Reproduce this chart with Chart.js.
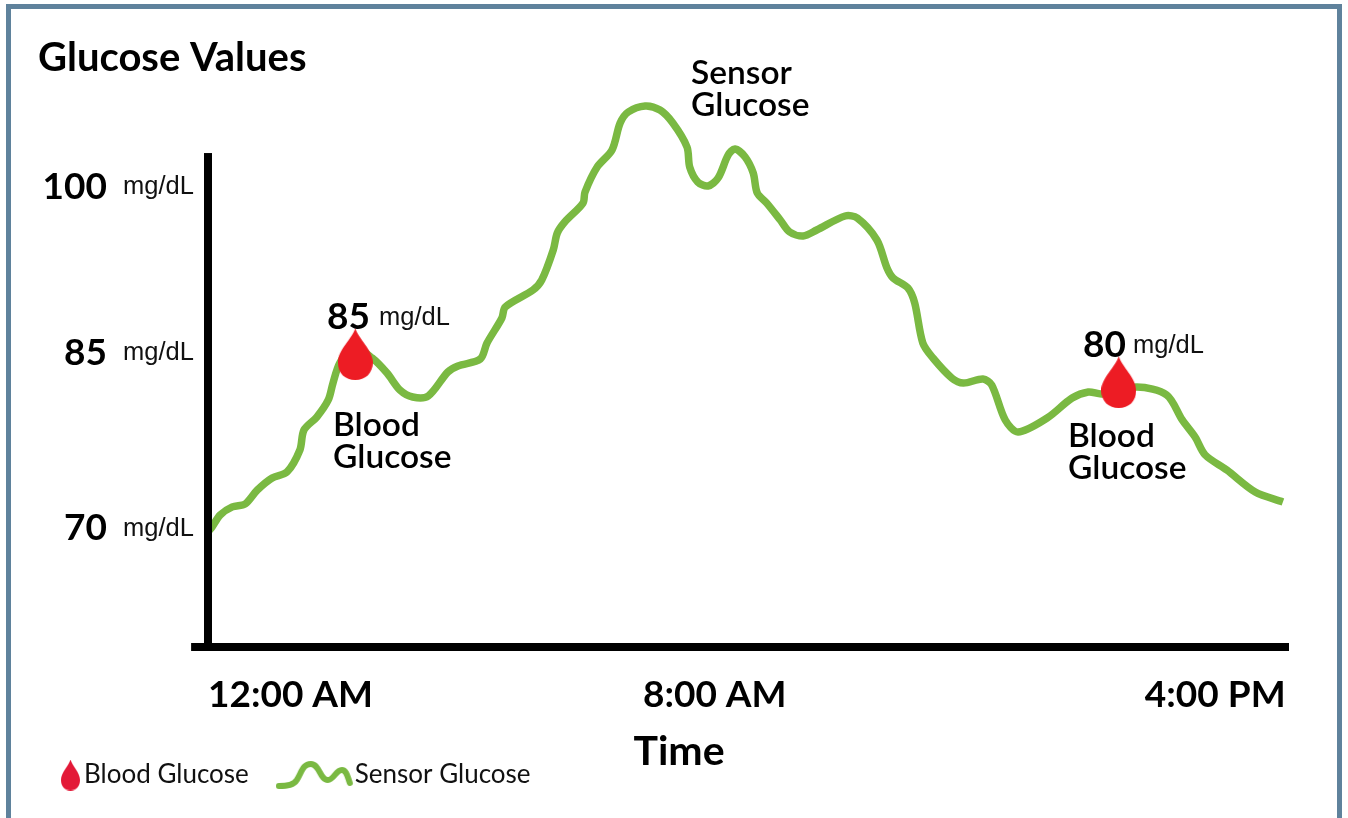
<!DOCTYPE html>
<html>
<head>
<meta charset="utf-8">
<script src="https://cdn.jsdelivr.net/npm/chart.js@4/dist/chart.umd.min.js"></script>
<style>
html,body{margin:0;padding:0;background:#fff;width:1348px;height:818px;overflow:hidden}
#frame{position:absolute;left:6px;top:4px;width:1336px;height:830px;border:5.5px solid #5f829c;box-sizing:border-box}
#wrap{position:absolute;left:0;top:0;width:1348px;height:818px}
</style>
</head>
<body>
<div id="frame"></div>
<div id="wrap"><canvas id="c" width="1348" height="818"></canvas></div>
<script>
// ---- data (hours since 12:00 AM, mg/dL) ----
const sensorHours = [0.00,0.06,0.18,0.36,0.55,0.73,0.95,1.17,1.36,1.42,1.61,1.78,1.85,1.95,2.15,2.43,2.65,2.84,3.03,3.26,3.55,3.70,4.03,4.13,4.35,4.40,4.81,4.94,5.11,5.17,5.28,5.55,5.58,5.76,5.98,6.10,6.22,6.47,6.69,6.88,7.09,7.13,7.25,7.40,7.55,7.70,7.80,7.95,8.07,8.13,8.27,8.47,8.61,8.81,9.01,9.43,9.61,9.90,10.05,10.14,10.36,10.46,10.58,10.73,11.01,11.18,11.47,11.60,11.80,11.99,12.42,12.79,13.03,13.23,13.75,14.19,14.42,14.61,14.76,15.08,15.50,15.91];
const sensorValues = [69.65,70.09,71.14,71.85,72.11,73.34,74.40,74.93,76.86,78.62,79.76,81.26,82.75,84.51,85.92,84.95,83.63,82.14,81.52,81.61,83.72,84.25,84.86,86.27,88.47,89.44,90.93,91.81,94.45,95.95,96.91,98.58,99.55,101.75,103.25,105.62,106.59,107.12,106.76,105.62,103.51,101.75,100.43,100.08,100.78,102.81,103.33,102.63,101.22,99.46,98.58,97.09,96.03,95.68,96.21,97.44,97.26,95.33,92.87,91.99,91.11,89.79,86.27,84.95,83.19,82.75,83.10,82.58,79.50,78.44,79.67,81.43,81.96,81.79,82.40,81.70,79.50,78.00,76.42,75.10,73.17,72.29];
const bloodHours = [2.18,13.48];
const bloodValues = [85.3,82.84];
const bloodLabels = ['85','80'];
const unit = 'mg/dL';
const seriesNames = ['Blood Glucose','Sensor Glucose'];
const xTickHours = [0,7.5,15.95];
const xTickLabels = ['12:00 AM','8:00 AM','4:00 PM'];
const yTickValues = [70,85.4,100];
const yTickLabels = ['70','85','100'];
const titleText = 'Glucose Values';
const xTitleText = 'Time';

const BOLD = 'Lato, "Noto Sans", sans-serif';
const GREEN = '#7ab942';

function makeCanvas(w,h){const c=document.createElement('canvas');c.width=w;c.height=h;return c;}
function dropIcon(w,h,color){
  const c=makeCanvas(w,h),g=c.getContext('2d');
  g.fillStyle=color;g.beginPath();
  g.moveTo(w/2,0);
  g.bezierCurveTo(w*0.58,h*0.2,w,h*0.42,w,h*0.66);
  g.bezierCurveTo(w,h*0.88,w*0.78,h,w/2,h);
  g.bezierCurveTo(w*0.22,h,0,h*0.88,0,h*0.66);
  g.bezierCurveTo(0,h*0.42,w*0.42,h*0.2,w/2,0);
  g.closePath();g.fill();
  return c;
}
function squiggleIcon(){
  const c=makeCanvas(131,28),g=c.getContext('2d');
  g.strokeStyle=GREEN;g.lineWidth=6;g.lineCap='round';g.lineJoin='round';
  g.beginPath();
  g.moveTo(3,25);
  g.bezierCurveTo(12,25,18,24,21,19);
  g.bezierCurveTo(26,11,27,3,35,3);
  g.bezierCurveTo(44,3,44,19,52,19);
  g.bezierCurveTo(58,19,60,9,66,9);
  g.bezierCurveTo(71,9,72,17,74,22);
  g.stroke();
  return c;
}
const dropBig = dropIcon(35,52,'#ed1c24');
const dropSmall = dropIcon(19,31,'#e31937');
const squiggle = squiggleIcon();

const calloutBlocks = [
  {lines:['Blood','Glucose'], left:333, top:425},
  {lines:['Blood','Glucose'], left:1068,top:436},
  {lines:['Sensor','Glucose'],left:691, top:73}
];

const overlay = {
  id:'overlay',
  beforeLayout(chart){
    const lg=chart.legend;
    if(lg && !lg._wrapped){
      const f=lg.fit;
      lg.fit=function(){f.call(this);this.height=0;};
      lg._wrapped=true;
    }
  },
  afterLayout(chart){
    const lg=chart.legend;
    lg.left=-22; lg.top=670;
  },
  afterDatasetsDraw(chart){
    const {ctx,scales:{x,y}}=chart;
    ctx.save();
    ctx.fillStyle='#000';
    const ax=x.getPixelForValue(0), ay=y.getPixelForValue(59.53);
    const yTop=y.getPixelForValue(102.98);
    ctx.fillRect(ax-4,yTop,8,ay-yTop);
    ctx.fillRect(x.getPixelForValue(-0.25),ay-4,x.getPixelForValue(16)-x.getPixelForValue(-0.25),8);
    ctx.textBaseline='middle';ctx.textAlign='left';
    ctx.fillStyle='#111';
    ctx.font='25.5px "Liberation Sans"';
    yTickValues.forEach((v,i)=>{
      const dy=[1,0,0][i];
      ctx.fillText(unit,123,y.getPixelForValue(v)+dy);
    });
    ctx.fillStyle='#000';
    ctx.textAlign='center';
    ctx.font='bold 41px '+BOLD;
    ctx.fillText(xTitleText,679,752);
    const readingX=[327,1083], readingY=[317,345], unitX=[379,1133];
    bloodLabels.forEach((t,i)=>{
      ctx.textAlign='left';
      ctx.font='bold 37px '+BOLD;
      ctx.fillStyle='#000';
      ctx.fillText(t,readingX[i],readingY[i]);
      ctx.font='25.5px "Liberation Sans"';
      ctx.fillStyle='#111';
      ctx.fillText(unit,unitX[i],readingY[i]+1);
    });
    ctx.fillStyle='#000';
    ctx.font='600 33.5px '+BOLD;
    calloutBlocks.forEach(b=>{
      b.lines.forEach((l,j)=>ctx.fillText(l,b.left,b.top+j*32.5));
    });
    ctx.restore();
  }
};

new Chart(document.getElementById('c'),{
  type:'line',
  data:{datasets:[
    {label:seriesNames[0],data:bloodHours.map((h,i)=>({x:h,y:bloodValues[i]})),showLine:false,
     pointStyle:dropBig,pointRadius:18,pointHoverRadius:18,backgroundColor:'#ed1c24',borderColor:'#ed1c24'},
    {label:seriesNames[1],data:sensorHours.map((h,i)=>({x:h,y:sensorValues[i]})),
     borderColor:GREEN,backgroundColor:GREEN,borderWidth:7.5,pointRadius:0,tension:0.3,
     borderCapStyle:'butt',borderJoinStyle:'round',fill:false}
  ]},
  plugins:[overlay],
  options:{
    responsive:false,animation:false,devicePixelRatio:1,
    layout:{padding:{left:38,right:59,top:0,bottom:0}},
    plugins:{
      tooltip:{enabled:false},
      title:{display:true,text:titleText,align:'start',color:'#000',
        font:{family:BOLD,size:40,weight:'bold',lineHeight:1.2},padding:{top:34,bottom:2.6}},
      legend:{display:true,position:'bottom',align:'start',
        labels:{usePointStyle:true,pointStyleWidth:1,padding:92,color:'#111',
          font:{family:'Lato, sans-serif',size:26},
          generateLabels(chart){
            return chart.data.datasets.map((d,i)=>({text:d.label,datasetIndex:i,
              pointStyle:i===0?dropSmall:squiggle,fontColor:'#111',hidden:false,lineWidth:0,
              fillStyle:d.backgroundColor,strokeStyle:d.borderColor}));
          }}}
    },
    scales:{
      x:{type:'linear',min:0,max:16,
        grid:{display:false,drawTicks:false},border:{display:false},
        afterBuildTicks(s){s.ticks=xTickHours.map(v=>({value:v}));},
        afterFit(s){s.height=171;},
        ticks:{autoSkip:false,maxRotation:0,minRotation:0,align:'inner',padding:26,color:'#000',
          font:{family:BOLD,size:37,weight:'bold'},
          callback(v){const i=xTickHours.indexOf(v);return i<0?'':xTickLabels[i];}}},
      y:{type:'linear',min:59.53,max:109,
        grid:{display:false,drawTicks:false},border:{display:false},
        afterBuildTicks(s){s.ticks=yTickValues.map(v=>({value:v}));},
        afterFit(s){s.width=170;s.paddingTop=0;s.paddingBottom=0;},
        ticks:{autoSkip:false,padding:101,color:'#000',
          font:{family:BOLD,size:37,weight:'bold'},
          callback(v){const i=yTickValues.indexOf(v);return i<0?'':yTickLabels[i];}}}
    }
  }
});
</script>
</body>
</html>
